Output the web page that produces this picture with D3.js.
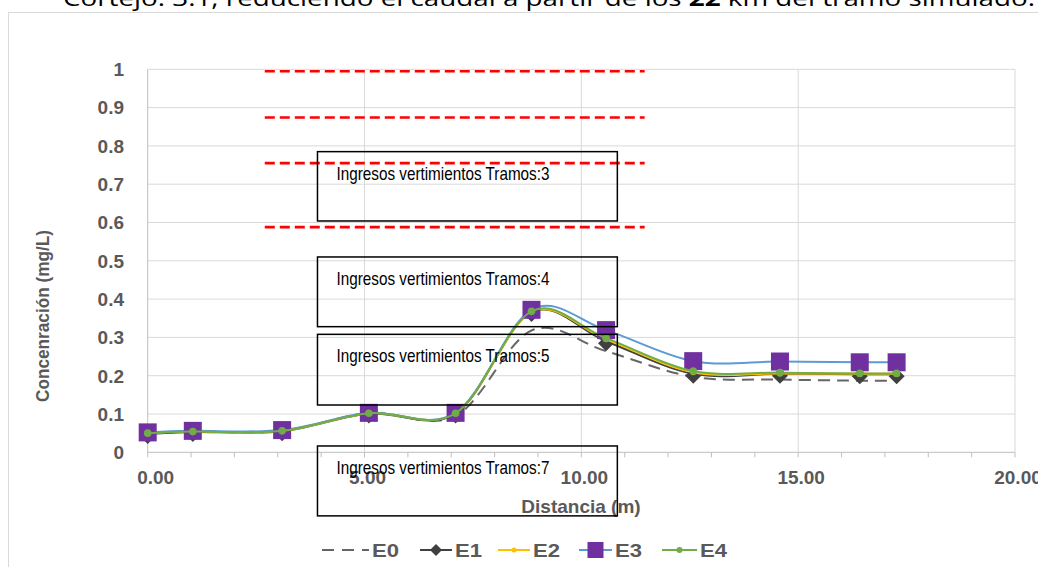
<!DOCTYPE html>
<html>
<head>
<meta charset="utf-8">
<script src="https://cdn.jsdelivr.net/npm/d3@7"></script>
<style>
  html, body { margin: 0; padding: 0; background: #fff; }
  svg { display: block; }
</style>
</head>
<body>
<svg id="chart" width="1038" height="567"></svg>
<script>
// ---- data ----
const distances = [0, 1.04, 3.1, 5.1, 7.1, 8.85, 10.57, 12.58, 14.58, 16.42, 17.27];
const e0 = [0.050, 0.054, 0.056, 0.103, 0.095, 0.318, 0.264, 0.197, 0.190, 0.187, 0.187];
const e1 = [0.048, 0.053, 0.055, 0.101, 0.101, 0.366, 0.290, 0.205, 0.205, 0.204, 0.204];
const e2 = [0.050, 0.054, 0.056, 0.102, 0.102, 0.366, 0.295, 0.209, 0.206, 0.205, 0.205];
const e3 = [0.052, 0.056, 0.058, 0.103, 0.103, 0.372, 0.319, 0.238, 0.237, 0.235, 0.235];
const e4 = [0.050, 0.054, 0.056, 0.102, 0.102, 0.368, 0.298, 0.212, 0.208, 0.206, 0.206];
const seriesNames = ["E0", "E1", "E2", "E3", "E4"];
const yTicks = [0, 0.1, 0.2, 0.3, 0.4, 0.5, 0.6, 0.7, 0.8, 0.9, 1];
const yTickLabels = ["0", "0.1", "0.2", "0.3", "0.4", "0.5", "0.6", "0.7", "0.8", "0.9", "1"];
const xTicks = [0, 5, 10, 15, 20];
const xTickLabels = ["0.00", "5.00", "10.00", "15.00", "20.00"];
const xMinorTicks = d3.range(0, 21, 1);
const redLineLevels = [0.995, 0.874, 0.755, 0.588];
const redLineRange = [2.70, 11.46];
const annotationLabels = ["Ingresos vertimientos Tramos:3", "Ingresos vertimientos Tramos:4",
                          "Ingresos vertimientos Tramos:5", "Ingresos vertimientos Tramos:7"];
const annotationTops = [0.785, 0.510, 0.308, 0.0165];
const annotationBottoms = [0.604, 0.328, 0.1235, -0.166];
const annotationXRange = [3.915, 10.83];
const titleText = "Cortejo. 3.1, reduciendo el caudal a partir de los ";
const titleBold = "22";
const titleEnd = " km del tramo simulado.";

// ---- setup ----
const svg = d3.select("#chart");
const x = d3.scaleLinear().domain([0, 20]).range([147.7, 1015]);
const y = d3.scaleLinear().domain([0, 1]).range([452.3, 69.3]);
const gray = "#595959";
const font = "'Liberation Sans', Arial, sans-serif";

// cut-off title text at top
const t = svg.append("text").attr("x", 63).attr("y", 6)
  .attr("font-family", "'Open Sans', sans-serif").attr("font-size", 22).attr("fill", "#000");
t.append("tspan").text(titleText);
t.append("tspan").attr("font-weight", "bold").text(titleBold);
t.append("tspan").text(titleEnd);
t.attr("textLength", 972).attr("lengthAdjust", "spacingAndGlyphs");

// chart frame
svg.append("rect").attr("x", 8.5).attr("y", 12.5).attr("width", 1040).attr("height", 570)
  .attr("fill", "none").attr("stroke", "#d9d9d9").attr("stroke-width", 1);

// gridlines
svg.append("g").selectAll("line").data(yTicks.filter(d => d > 0)).join("line")
  .attr("x1", x(0)).attr("x2", x(20)).attr("y1", d => y(d)).attr("y2", d => y(d))
  .attr("stroke", "#d9d9d9").attr("stroke-width", 1);
svg.append("g").selectAll("line").data(xTicks.filter(d => d > 0)).join("line")
  .attr("x1", d => x(d)).attr("x2", d => x(d)).attr("y1", y(0)).attr("y2", y(1))
  .attr("stroke", "#d9d9d9").attr("stroke-width", 1);

// axes lines
svg.append("line").attr("x1", x(0)).attr("x2", x(0)).attr("y1", y(0)).attr("y2", y(1))
  .attr("stroke", "#bfbfbf").attr("stroke-width", 1);
svg.append("line").attr("x1", x(0)).attr("x2", x(20)).attr("y1", y(0)).attr("y2", y(0))
  .attr("stroke", "#bfbfbf").attr("stroke-width", 1);
svg.append("g").selectAll("line").data(xMinorTicks).join("line")
  .attr("x1", d => x(d)).attr("x2", d => x(d)).attr("y1", y(0)).attr("y2", y(0) + 5)
  .attr("stroke", "#bfbfbf").attr("stroke-width", 1);

// y tick labels
svg.append("g").selectAll("text").data(yTicks).join("text")
  .attr("x", 124).attr("y", d => y(d)).attr("dy", "0.36em")
  .attr("text-anchor", "end").attr("font-family", font).attr("font-weight", "bold")
  .attr("font-size", 19).attr("fill", gray)
  .text((d, i) => yTickLabels[i]);

// x tick labels
svg.append("g").selectAll("text").data(xTicks).join("text")
  .attr("x", d => x(d) + (d === 0 ? 8 : 3)).attr("y", 484)
  .attr("text-anchor", "middle").attr("font-family", font).attr("font-weight", "bold")
  .attr("font-size", 19).attr("fill", gray)
  .text((d, i) => xTickLabels[i]);

// axis titles
svg.append("text").attr("x", 581).attr("y", 513).attr("text-anchor", "middle")
  .attr("font-family", font).attr("font-weight", "bold").attr("font-size", 19).attr("fill", gray)
  .text("Distancia (m)");
svg.append("text").attr("transform", "translate(49,316) rotate(-90)").attr("text-anchor", "middle")
  .attr("font-family", font).attr("font-weight", "bold").attr("font-size", 18).attr("fill", gray)
  .attr("textLength", 172).attr("lengthAdjust", "spacingAndGlyphs")
  .text("Concenración (mg/L)");

// red dashed lines
svg.append("g").selectAll("line").data(redLineLevels).join("line")
  .attr("x1", x(redLineRange[0])).attr("x2", x(redLineRange[1]))
  .attr("y1", d => y(d)).attr("y2", d => y(d))
  .attr("stroke", "#ff0000").attr("stroke-width", 2.6).attr("stroke-dasharray", "10,5");

// series lines
const line = d3.line().x(d => x(d[0])).y(d => y(d[1])).curve(d3.curveCardinal.tension(0));
const pts = vals => distances.map((d, i) => [d, vals[i]]);

svg.append("path").attr("d", line(pts(e0))).attr("fill", "none")
  .attr("stroke", "#666666").attr("stroke-width", 2).attr("stroke-dasharray", "12,7");
svg.append("path").attr("d", line(pts(e1))).attr("fill", "none")
  .attr("stroke", "#404040").attr("stroke-width", 2);
svg.append("g").selectAll("path").data(pts(e1)).join("path")
  .attr("transform", d => `translate(${x(d[0])},${y(d[1]) + 2})`)
  .attr("d", "M0,-8 L8,0 L0,8 L-8,0 Z").attr("fill", "#404040");
svg.append("path").attr("d", line(pts(e2))).attr("fill", "none")
  .attr("stroke", "#ffc000").attr("stroke-width", 2);
svg.append("g").selectAll("circle").data(pts(e2)).join("circle")
  .attr("cx", d => x(d[0])).attr("cy", d => y(d[1])).attr("r", 3).attr("fill", "#ffc000");
svg.append("path").attr("d", line(pts(e3))).attr("fill", "none")
  .attr("stroke", "#5b9bd5").attr("stroke-width", 2);
svg.append("g").selectAll("rect").data(pts(e3)).join("rect")
  .attr("x", d => x(d[0]) - 9).attr("y", d => y(d[1]) - 9).attr("width", 18).attr("height", 18)
  .attr("fill", "#7030a0");
svg.append("path").attr("d", line(pts(e4))).attr("fill", "none")
  .attr("stroke", "#70ad47").attr("stroke-width", 2);
svg.append("g").selectAll("circle").data(pts(e4)).join("circle")
  .attr("cx", d => x(d[0])).attr("cy", d => y(d[1])).attr("r", 3.8).attr("fill", "#70ad47");

// annotation boxes
const ann = svg.append("g").selectAll("g").data(annotationLabels).join("g");
ann.append("rect")
  .attr("x", x(annotationXRange[0])).attr("width", x(annotationXRange[1]) - x(annotationXRange[0]))
  .attr("y", (d, i) => y(annotationTops[i]))
  .attr("height", (d, i) => y(annotationBottoms[i]) - y(annotationTops[i]))
  .attr("fill", "none").attr("stroke", "#000").attr("stroke-width", 1.5);
ann.append("text")
  .attr("x", x(annotationXRange[0]) + 19).attr("y", (d, i) => y(annotationTops[i]) + 28)
  .attr("font-family", font).attr("font-size", 19).attr("fill", "#000")
  .attr("textLength", 213).attr("lengthAdjust", "spacingAndGlyphs")
  .text(d => d);

// legend
const legendY = 550;
const legendItems = [
  { name: seriesNames[0], x0: 322, x1: 369, tx: 372 },
  { name: seriesNames[1], x0: 420, x1: 452, tx: 455 },
  { name: seriesNames[2], x0: 498, x1: 530, tx: 533 },
  { name: seriesNames[3], x0: 579, x1: 612, tx: 615 },
  { name: seriesNames[4], x0: 662, x1: 697, tx: 700 }
];
const lg = svg.append("g");
const colors = ["#666666", "#404040", "#ffc000", "#5b9bd5", "#70ad47"];
legendItems.forEach((it, i) => {
  lg.append("line").attr("x1", it.x0).attr("x2", it.x1).attr("y1", legendY).attr("y2", legendY)
    .attr("stroke", colors[i]).attr("stroke-width", 2)
    .attr("stroke-dasharray", i === 0 ? "12,8" : null);
  const cx = (it.x0 + it.x1) / 2;
  if (i === 1) lg.append("path").attr("transform", `translate(${cx},${legendY})`)
    .attr("d", "M0,-6 L6,0 L0,6 L-6,0 Z").attr("fill", "#404040");
  if (i === 2) lg.append("circle").attr("cx", cx).attr("cy", legendY).attr("r", 2.5).attr("fill", "#ffc000");
  if (i === 3) lg.append("rect").attr("x", cx - 8).attr("y", legendY - 8).attr("width", 16).attr("height", 16).attr("fill", "#7030a0");
  if (i === 4) lg.append("circle").attr("cx", cx).attr("cy", legendY).attr("r", 3).attr("fill", "#70ad47");
  lg.append("text").attr("x", it.tx).attr("y", legendY).attr("dy", "0.36em")
    .attr("font-family", font).attr("font-weight", "bold").attr("font-size", 19).attr("fill", gray)
    .attr("textLength", 27).attr("lengthAdjust", "spacingAndGlyphs")
    .text(it.name);
});
</script>
</body>
</html>
